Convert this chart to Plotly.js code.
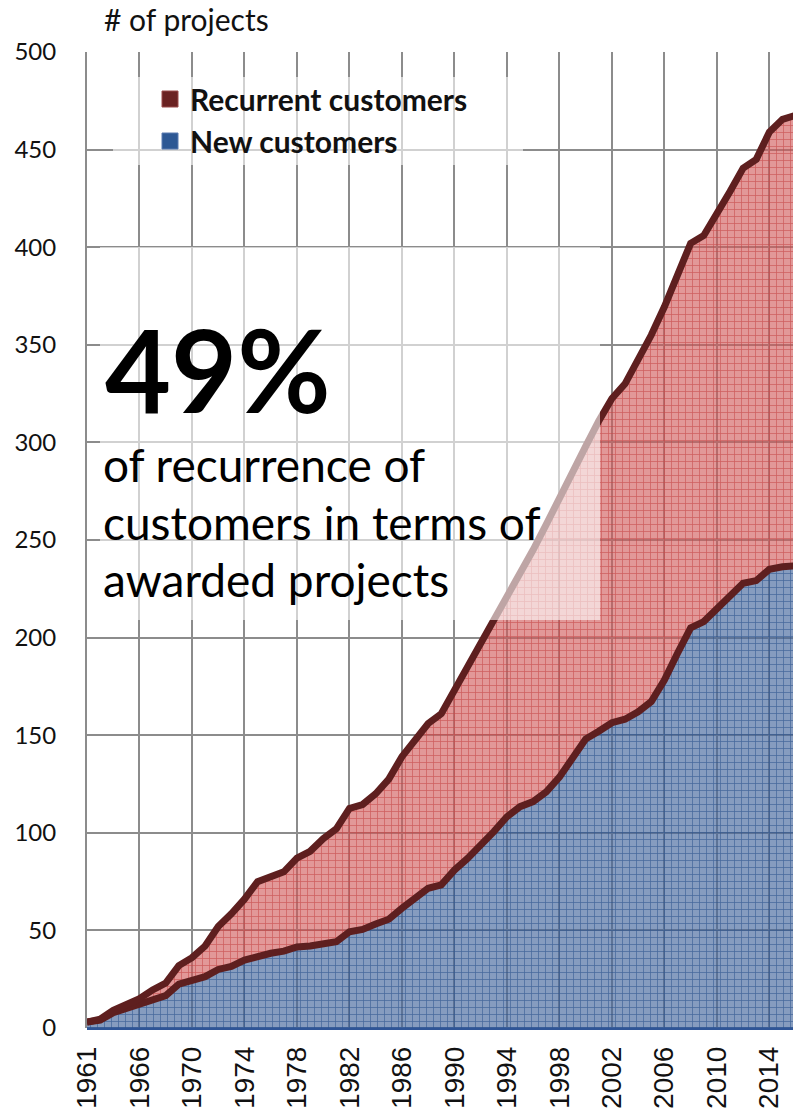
<!DOCTYPE html>
<html><head><meta charset="utf-8">
<script src="https://cdn.plot.ly/plotly-3.0.1.min.js"></script>
<style>html,body{margin:0;padding:0;background:#fff;overflow:hidden}#chart{width:793px;height:1108px}</style>
</head><body><div id="chart"></div>
<script>
// Categories (year labels on a category axis; 1962 absent)
const years = ['1961','1963','1964','1965','1966','1967','1968','1969','1970','1971','1972','1973','1974','1975','1976','1977','1978','1979','1980','1981','1982','1983','1984','1985','1986','1987','1988','1989','1990','1991','1992','1993','1994','1995','1996','1997','1998','1999','2000','2001','2002','2003','2004','2005','2006','2007','2008','2009','2010','2011','2012','2013','2014','2015','2016'];
// Cumulative projects: total (new + recurrent customers)
const totalProjects = [3,4.5,9,12,15,19.5,23,32,36,42,52,58.5,66,75,77.5,80,87,90.5,97,102,112.5,114.5,120,127.5,139,147,156,161,173,184.5,195.5,207.5,220,232,245,258,272,285,298,311,322.5,330,342,355,369.5,385,402,406,416.5,428.5,440.5,445,459,465.5,467.5];
// Cumulative projects from new customers
const newCustomers = [3,4,7.8,10,12,14.3,16.6,22.5,24,26.3,30,31.5,34.8,36.9,38.3,39.4,41.5,42,43.2,44.2,49.3,50.5,53.3,55.7,61.3,66.4,71.6,73.3,80.9,86.9,93.2,100.6,108.2,113.4,116,121,128.5,139,148,152,156.4,158.2,162,167.2,178.3,192,205,208.2,215,221.8,227.8,229.2,235,236.3,236.7];
const seriesNames = ['Recurrent customers','New customers'];
const yTickStep = 50;
const headline = '49%';
const subLines = ['of recurrence of','customers in terms of','awarded projects'];

const W = 793, H = 1108, L = 87, R = 0, T = 52, B = 80;
const pw = W - L - R, ph = H - T - B;
const px = x => (x - L) / pw;
const py = y => (H - B - y) / ph;

const lineCol = '#5e1f1f';
const traces = [
  {
    x: years, y: newCustomers, type: 'scatter', mode: 'lines',
    name: seriesNames[1], showlegend: false, hoverinfo: 'skip',
    line: {color: lineCol, width: 7},
    fill: 'tozeroy',
    fillcolor: 'rgba(66,100,154,0.64)',
    fillpattern: {shape: '+', size: 7, solidity: 0.2, bgcolor: 'rgba(66,100,154,0.64)', fgcolor: '#2c538c', fgopacity: 0.7}
  },
  {
    x: years, y: totalProjects, type: 'scatter', mode: 'lines',
    name: seriesNames[0], showlegend: false, hoverinfo: 'skip',
    line: {color: lineCol, width: 7},
    fill: 'tonexty',
    fillcolor: 'rgba(208,88,88,0.62)',
    fillpattern: {shape: '+', size: 7, solidity: 0.2, bgcolor: 'rgba(208,88,88,0.62)', fgcolor: '#c44444', fgopacity: 0.7}
  },
  {
    x: [null], y: [null], type: 'scatter', mode: 'markers', name: seriesNames[0],
    legendgroup: 'r', hoverinfo: 'skip',
    marker: {symbol: 'square', size: 16, color: '#6a2222', line: {color: '#9a4a4a', width: 1}}
  },
  {
    x: [null], y: [null], type: 'scatter', mode: 'markers', name: seriesNames[1],
    legendgroup: 'n', hoverinfo: 'skip',
    marker: {symbol: 'square', size: 16, color: '#2d5894', line: {color: '#5a7ab0', width: 1}}
  }
];

const layout = {
  width: W, height: H,
  margin: {l: L, r: R, t: T, b: B, pad: 0},
  paper_bgcolor: '#ffffff', plot_bgcolor: '#ffffff',
  font: {family: 'Lato, sans-serif', color: '#111'},
  title: {
    text: '# of projects', font: {family: 'Lato', size: 30, color: '#111'},
    xref: 'container', yref: 'container', x: 104 / W, xanchor: 'left', y: 1 - 20 / H, yanchor: 'middle'
  },
  xaxis: {
    type: 'category', range: [0, 53.8], tickmode: 'linear', tick0: 0, dtick: 4,
    tickangle: -90, tickfont: {family: 'Liberation Sans Narrow, Liberation Sans, Arial', size: 28, color: '#111'},
    showgrid: true, gridcolor: '#8c8c8c', gridwidth: 2, showline: false, ticks: '',
    ticklabelstandoff: 12, fixedrange: true
  },
  yaxis: {
    range: [0, 500], tickmode: 'linear', tick0: 0, dtick: yTickStep,
    tickfont: {family: 'Lato', size: 24, color: '#111'},
    showgrid: true, gridcolor: '#8c8c8c', gridwidth: 2,
    showline: true, linecolor: '#8c8c8c', linewidth: 2,
    zeroline: true, zerolinecolor: '#2f5597', zerolinewidth: 3,
    ticks: '', ticklabelstandoff: 24, fixedrange: true
  },
  legend: {
    x: px(150), y: py(73), xanchor: 'left', yanchor: 'top',
    bgcolor: 'rgba(0,0,0,0)', traceorder: 'grouped', tracegroupgap: 0,
    font: {family: 'Lato', size: 30, color: '#111', weight: 'bold'}
  },
  shapes: [
    {type: 'rect', xref: 'paper', yref: 'paper', x0: px(113), x1: px(523), y0: py(165), y1: py(77),
     fillcolor: 'rgba(255,255,255,0.6)', line: {width: 0}, layer: 'above'},
    {type: 'rect', xref: 'paper', yref: 'paper', x0: px(100), x1: px(600), y0: py(620), y1: py(247),
     fillcolor: 'rgba(255,255,255,0.6)', line: {width: 0}, layer: 'above'}
  ],
  annotations: [
    {text: headline, xref: 'paper', yref: 'paper', x: px(103), y: py(368), xanchor: 'left', yanchor: 'middle',
     showarrow: false, font: {family: 'Lato', size: 114, color: '#000', weight: 'bold'}},
    {text: subLines[0], xref: 'paper', yref: 'paper', x: px(101), y: py(465), xanchor: 'left', yanchor: 'middle',
     showarrow: false, font: {family: 'Lato', size: 46, color: '#000'}},
    {text: subLines[1], xref: 'paper', yref: 'paper', x: px(101), y: py(522), xanchor: 'left', yanchor: 'middle',
     showarrow: false, font: {family: 'Lato', size: 46, color: '#000'}},
    {text: subLines[2], xref: 'paper', yref: 'paper', x: px(101), y: py(579), xanchor: 'left', yanchor: 'middle',
     showarrow: false, font: {family: 'Lato', size: 46, color: '#000'}}
  ]
};

Plotly.newPlot('chart', traces, layout, {staticPlot: true, displayModeBar: false});
</script>
</body></html>
